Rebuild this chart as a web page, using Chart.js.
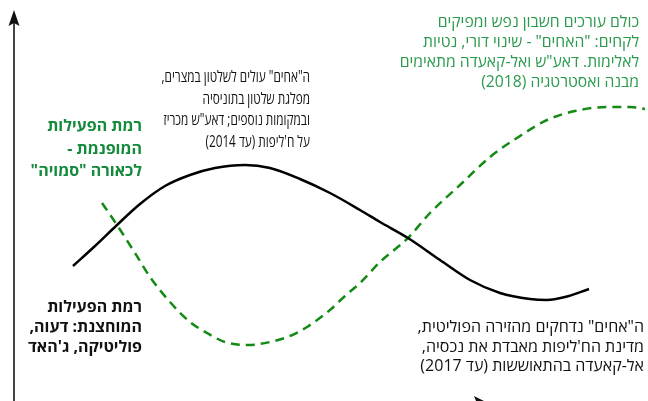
<!DOCTYPE html>
<html lang="he">
<head>
<meta charset="utf-8">
<script src="https://cdn.jsdelivr.net/npm/chart.js@4.4.1/dist/chart.umd.min.js"></script>
<style>
  html, body { margin: 0; padding: 0; background: #fff; }
  canvas { display: block; }
</style>
</head>
<body>
<canvas id="chart" width="648" height="401"></canvas>
<script>
// רמת הפעילות לאורך זמן: קו שחור = פעילות מוחצנת, קו ירוק מקווקו = פעילות מופנמת
const blackTime = [73, 95, 117, 140, 165, 190, 215, 245, 270, 300, 330, 360, 380, 408, 440, 470, 500, 530, 547, 565, 589];
const blackLevel = [135, 155, 176, 197, 215, 226, 233, 236, 233, 222, 208, 191, 179, 163, 141, 121, 108, 102, 101, 104, 112];

const greenTime = [102, 117, 135, 150, 170, 190, 207, 225, 248, 270, 290, 307, 330, 345, 360, 380, 408, 430, 460, 490, 520, 547, 575, 607, 630, 645];
const greenLevel = [198, 176, 148, 124, 99, 79, 68, 59, 56, 59, 65, 74, 91, 105, 118, 139, 163, 188, 216, 244, 265, 281, 290, 294, 294, 292];

const annotations = [
    {
        lines: ["כולם עורכים חשבון נפש ומפיקים", "לקחים: \"האחים\" - שינוי דורי, נטיות", "לאלימות. דאע\"ש ואל-קאעדה מתאימים", "מבנה ואסטרטגיה (2018)"],
        x: 639, y: 27, lh: 20, color: "#2a9a4c", weight: "normal", size: 16, sx: 0.98,
    },
    {
        lines: ["ה\"אחים\" עולים לשלטון במצרים,", "מפלגת שלטון בתוניסיה", "ובמקומות נוספים; דאע\"ש מכריז", "על ח'ליפות (עד 2014)"],
        x: 310, y: 82, lh: 21.5, color: "#111", weight: "normal", size: 15.5, sx: 0.76,
    },
    {
        lines: ["רמת הפעילות", "המופנמת -", "לכאורה \"סמויה\""],
        x: 142, y: 131, lh: 22.5, color: "#148a3c", weight: "bold", size: 16, sx: 1,
    },
    {
        lines: ["רמת הפעילות", "המוחצנת: דעוה,", "פוליטיקה, ג'האד"],
        x: 142, y: 312, lh: 20, color: "#111", weight: "bold", size: 16, sx: 1,
    },
    {
        lines: ["ה\"אחים\" נדחקים מהזירה הפוליטית,", "מדינת הח'ליפות מאבדת את נכסיה,", "אל-קאעדה בהתאוששות (עד 2017)"],
        x: 644, y: 332, lh: 19.5, color: "#111", weight: "normal", size: 16, sx: 1,
    },
];

const FONT = "'Open Sans', 'Liberation Sans', 'DejaVu Sans', sans-serif";

// חצים של הצירים + טקסטים
const decorations = {
    id: "decorations",
    afterDraw(chart) {
        const ctx = chart.ctx;
        ctx.save();
        ctx.strokeStyle = "#444";
        ctx.fillStyle = "#111";
        ctx.lineWidth = 2;
        // ציר אנכי
        ctx.beginPath();
        ctx.moveTo(14, 401);
        ctx.lineTo(14, 22);
        ctx.stroke();
        ctx.beginPath();
        ctx.moveTo(14, 10);
        ctx.lineTo(19.5, 26);
        ctx.lineTo(14, 23);
        ctx.lineTo(8.5, 26);
        ctx.closePath();
        ctx.fill();
        // קצה הציר האופקי (חתוך בתחתית)
        ctx.beginPath();
        ctx.moveTo(494, 406);
        ctx.lineTo(474, 396);
        ctx.lineTo(478, 406);
        ctx.lineTo(474, 416);
        ctx.closePath();
        ctx.fill();

        ctx.direction = "rtl";
        ctx.textAlign = "right";
        ctx.textBaseline = "alphabetic";
        annotations.forEach((a) => {
            ctx.font = `${a.weight} ${a.size}px ${FONT}`;
            ctx.fillStyle = a.color;
            a.lines.forEach((line, i) => {
                ctx.save();
                ctx.translate(a.x, a.y + i * a.lh);
                ctx.scale(a.sx, 1);
                ctx.fillText(line, 0, 0);
                ctx.restore();
            });
        });
        ctx.restore();
    },
};

new Chart(document.getElementById("chart"), {
    type: "line",
    data: {
        datasets: [
            {
                label: "פעילות מוחצנת",
                data: blackTime.map((t, i) => ({ x: t, y: blackLevel[i] })),
                borderColor: "#000",
                borderWidth: 2.5,
                pointRadius: 0,
                cubicInterpolationMode: "monotone",
                fill: false,
            },
            {
                label: "פעילות מופנמת",
                data: greenTime.map((t, i) => ({ x: t, y: greenLevel[i] })),
                borderColor: "#138a13",
                borderWidth: 2.5,
                borderDash: [9, 6],
                pointRadius: 0,
                cubicInterpolationMode: "monotone",
                fill: false,
            },
        ],
    },
    options: {
        responsive: false,
        animation: false,
        layout: { padding: 0 },
        plugins: {
            legend: { display: false },
            tooltip: { enabled: false },
        },
        scales: {
            x: { type: "linear", display: false, min: 0, max: 648 },
            y: { type: "linear", display: false, min: 0, max: 401 },
        },
    },
    plugins: [decorations],
});
</script>
</body>
</html>
